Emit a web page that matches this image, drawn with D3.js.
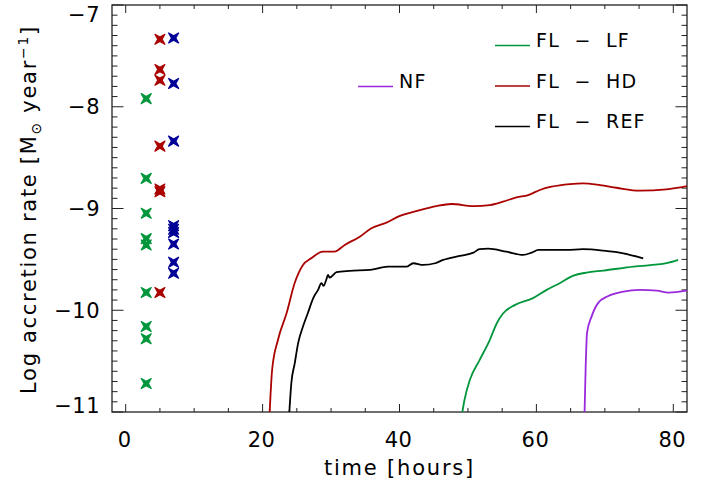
<!DOCTYPE html>
<html>
<head>
<meta charset="utf-8">
<script src="https://cdn.jsdelivr.net/npm/d3@7"></script>
<style>
  html, body { margin: 0; padding: 0; background: #fff; }
  svg { display: block; }
  text { font-family: "DejaVu Sans", sans-serif; fill: #000; }
</style>
</head>
<body>
<div id="chart"></div>
<script>
// ---------- data ----------
const xTicks = [0, 20, 40, 60, 80];
const yTicks = [-11, -10, -9, -8, -7];

// FL - HD (red)
const hdTime = [21.0, 21.4, 22.25, 23.5, 24.7, 25.9, 27.1, 28.8, 30.5, 32.0, 34.2, 35.9, 38.1, 39.8, 43.0, 45.4, 47.6, 50.8, 53.2, 55.1, 57.1, 58.8, 60.5, 62.2, 64.9, 66.8, 69.3, 71.7, 75.1, 79.0, 82.0];
const hdRate = [-11.05, -10.58, -10.29, -10.03, -9.73, -9.555, -9.49, -9.424, -9.424, -9.358, -9.277, -9.194, -9.139, -9.08, -9.015, -8.976, -8.956, -8.976, -8.966, -8.933, -8.89, -8.868, -8.818, -8.786, -8.76, -8.753, -8.77, -8.796, -8.825, -8.812, -8.78];

// FL - REF (black)
const refTime = [23.86, 24.2, 24.7, 25.2, 25.9, 26.6, 27.4, 28.1, 28.6, 28.9, 29.3, 29.56, 29.8, 30.8, 32.7, 35.7, 38.3, 41.0, 42.0, 43.45, 45.2, 46.4, 48.8, 50.8, 51.7, 52.95, 55.6, 58.07, 59.3, 60.3, 64.4, 66.8, 69.8, 72.7, 75.6];
const refRate = [-11.05, -10.715, -10.52, -10.32, -10.16, -10.03, -9.88, -9.80, -9.734, -9.76, -9.70, -9.653, -9.68, -9.626, -9.613, -9.603, -9.571, -9.571, -9.538, -9.555, -9.538, -9.505, -9.466, -9.434, -9.40, -9.395, -9.424, -9.456, -9.434, -9.407, -9.407, -9.40, -9.414, -9.44, -9.49];

// FL - LF (green)
const lfTime = [49.06, 49.5, 50.3, 51.7, 53.2, 54.2, 55.15, 56.9, 59.5, 61.5, 63.4, 65.4, 67.3, 69.8, 74.2, 79.0, 80.7];
const lfRate = [-11.05, -10.88, -10.68, -10.49, -10.29, -10.13, -10.03, -9.947, -9.881, -9.80, -9.734, -9.66, -9.63, -9.61, -9.571, -9.538, -9.505];

// NF (purple)
const nfTime = [67.0, 67.2, 67.4, 68.07, 69.0, 70.5, 72.7, 75.1, 77.6, 79.3, 82.0];
const nfRate = [-11.1, -10.55, -10.22, -10.06, -9.93, -9.86, -9.816, -9.80, -9.807, -9.826, -9.807];

// observed points (X markers)
const obsGreenTime = 3;
const obsGreenRate = [-7.92, -8.704, -9.047, -9.296, -9.358, -9.826, -10.16, -10.28, -10.72, -11.06];
const obsRedTime = 5;
const obsRedRate = [-7.337, -7.634, -7.739, -8.387, -8.809, -8.835, -9.826];
const obsBlueTime = 7;
const obsBlueRate = [-7.324, -7.771, -8.338, -9.169, -9.204, -9.236, -9.349, -9.528, -9.636];

const legendLabels = ["NF", "FL  \u2212  LF", "FL  \u2212  HD", "FL  \u2212  REF"];

// ---------- layout / style ----------
const W = 708, H = 484;
const M = { left: 112, right: 687, top: 5, bottom: 412 };
const C = {
  hd: "#aa0000", ref: "#000000", lf: "#00963c", nf: "#9a28dc",
  green: "#00963c", red: "#aa0000", blue: "#000096"
};

const svg = d3.select("#chart").append("svg").attr("width", W).attr("height", H);

const x = d3.scaleLinear().domain([-2, 82]).range([M.left, M.right]);
const y = d3.scaleLinear().domain([-11, -7]).range([M.bottom, M.top]);

svg.append("defs").append("clipPath").attr("id", "clip")
  .append("rect").attr("x", M.left).attr("y", M.top)
  .attr("width", M.right - M.left).attr("height", M.bottom - M.top);

// ---------- axes (IDL style, ticks on all four sides) ----------
const xMinor = d3.range(0, 81, 5);
const yMinor = d3.range(-110, -69, 1).map(v => v / 10);
const tickStroke = "#222";

function axisTicks() {
  const g = svg.append("g").attr("stroke", tickStroke).attr("stroke-width", 1);
  xMinor.forEach(v => {
    const major = xTicks.includes(v);
    const len = major ? 8 : 4;
    g.append("line").attr("x1", x(v)).attr("x2", x(v)).attr("y1", M.bottom).attr("y2", M.bottom - len);
    g.append("line").attr("x1", x(v)).attr("x2", x(v)).attr("y1", M.top).attr("y2", M.top + len);
  });
  yMinor.forEach(v => {
    const major = yTicks.some(t => Math.abs(t - v) < 1e-9);
    const len = major ? 11.5 : 5.5;
    g.append("line").attr("x1", M.left).attr("x2", M.left + len).attr("y1", y(v)).attr("y2", y(v));
    g.append("line").attr("x1", M.right).attr("x2", M.right - len).attr("y1", y(v)).attr("y2", y(v));
  });
}
axisTicks();

// frame
svg.append("rect").attr("x", M.left).attr("y", M.top)
  .attr("width", M.right - M.left).attr("height", M.bottom - M.top)
  .attr("fill", "none").attr("stroke", "#222").attr("stroke-width", 1.3);

// tick labels
svg.append("g").selectAll("text").data(xTicks).join("text")
  .attr("x", d => x(d) - 1).attr("y", 447)
  .attr("text-anchor", "middle").attr("font-size", 21).attr("letter-spacing", 0.5)
  .text(d => d);

svg.append("g").selectAll("text").data(yTicks).join("text")
  .attr("x", 100).attr("y", d => Math.min(Math.max(y(d), M.top + 9), M.bottom - 6.5))
  .attr("dy", "0.36em")
  .attr("text-anchor", "end").attr("font-size", 21).attr("letter-spacing", 0.5)
  .text(d => d < 0 ? "\u2212" + Math.abs(d) : d);

// axis titles
svg.append("text").attr("x", (M.left + M.right) / 2).attr("y", 475)
  .attr("text-anchor", "middle").attr("font-size", 21).attr("letter-spacing", 1.8)
  .text("time [hours]");

const yl = svg.append("text")
  .attr("transform", `translate(36, ${(M.top + M.bottom) / 2 + 1}) rotate(-90)`)
  .attr("text-anchor", "middle").attr("font-size", 21).attr("letter-spacing", 1.7);
yl.append("tspan").text("Log accretion rate [M");
yl.append("tspan").attr("font-size", 14).attr("dy", 5).text("\u2299");
yl.append("tspan").attr("dy", -5).text(" year");
yl.append("tspan").attr("font-size", 14).attr("dy", -8).text("\u22121");
yl.append("tspan").attr("dy", 8).text("]");

// ---------- data marks ----------
const plot = svg.append("g").attr("clip-path", "url(#clip)");
const line = d3.line().x(d => x(d[0])).y(d => y(d[1])).curve(d3.curveMonotoneX);

const series = [
  { t: lfTime, v: lfRate, c: C.lf },
  { t: nfTime, v: nfRate, c: C.nf },
  { t: refTime, v: refRate, c: C.ref },
  { t: hdTime, v: hdRate, c: C.hd }
];
series.forEach(s => {
  plot.append("path").datum(s.t.map((t, i) => [t, s.v[i]]))
    .attr("d", line).attr("fill", "none").attr("stroke", s.c)
    .attr("stroke-width", 1.8).attr("stroke-linejoin", "round");
});

const star = "M-5,-5L0,-2.2L5,-5L2.2,0L5,5L0,2.2L-5,5L-2.2,0Z";
[
  { t: obsGreenTime, v: obsGreenRate, c: C.green },
  { t: obsRedTime, v: obsRedRate, c: C.red },
  { t: obsBlueTime, v: obsBlueRate, c: C.blue }
].forEach(s => {
  plot.append("g").selectAll("path").data(s.v).join("path")
    .attr("transform", d => `translate(${x(s.t)},${y(d)})`)
    .attr("d", star).attr("fill", s.c).attr("stroke", s.c)
    .attr("stroke-width", 1.2).attr("stroke-linejoin", "round");
});

// ---------- legend ----------
const legend = svg.append("g");
const legendDefs = [
  { label: legendLabels[0], c: C.nf, x0: 358, y0: 87 },
  { label: legendLabels[1], c: C.lf, x0: 495, y0: 46 },
  { label: legendLabels[2], c: C.hd, x0: 495, y0: 86.5 },
  { label: legendLabels[3], c: C.ref, x0: 495, y0: 127 }
];
legendDefs.forEach(d => {
  legend.append("line").attr("x1", d.x0).attr("x2", d.x0 + 35)
    .attr("y1", d.y0 - 0.5).attr("y2", d.y0 - 0.5)
    .attr("stroke", d.c).attr("stroke-width", 1.6);
  legend.append("text").attr("x", d.x0 + 41).attr("y", d.y0 + 1)
    .attr("font-size", 19).attr("letter-spacing", 1.2)
    .attr("xml:space", "preserve").style("white-space", "pre")
    .text(d.label);
});
</script>
</body>
</html>
